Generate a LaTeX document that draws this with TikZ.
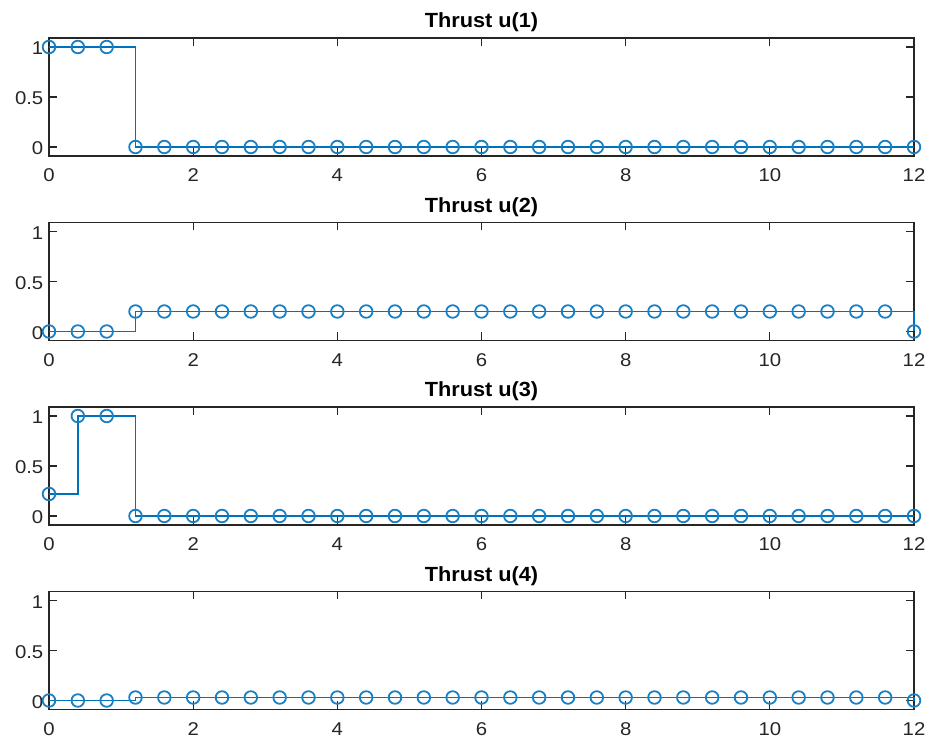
\documentclass[tikz,border=0pt]{standalone}
\usepackage{fontspec}
\setmainfont{Liberation Sans}
\newfontfamily\tickfont[FakeStretch=1.1]{Liberation Sans}
\newfontfamily\titlefont[FakeStretch=1.06]{Liberation Sans}
\definecolor{mblue}{HTML}{0072BD}
\definecolor{axgray}{HTML}{262626}
\tikzset{
  axisline/.style={draw=axgray, line width=1.2pt},
  dataline/.style={draw=mblue, line width=1.7pt, line join=miter},
  mk/.style={draw=mblue!90!white, line width=1.8pt},
  xlab/.style={anchor=base, inner sep=0pt, text=axgray, font=\tickfont\fontsize{18.5}{20}\selectfont},
  ylab/.style={anchor=base east, inner sep=0pt, text=axgray, font=\tickfont\fontsize{18.5}{20}\selectfont},
  ttl/.style={anchor=base, inner sep=0pt, text=black, font=\titlefont\fontsize{20.5}{22}\selectfont\bfseries}
}
\newcommand\axesframe[1]{%
  \draw[axisline] (0,-0.09) rectangle (12,1.09);
  \foreach \xx in {0,2,...,12} {
    \draw[axisline] (\xx,-0.09) -- ++(0,8pt);
    \draw[axisline] (\xx,1.09) -- ++(0,-8pt);
    \node[xlab] (xl\xx) at (\xx,-0.09) [yshift=-26pt] {\xx};
  }
  \foreach \yy/\lab in {0/0,0.5/0.5,1/1} {
    \draw[axisline] (0,\yy) -- ++(8pt,0);
    \draw[axisline] (12,\yy) -- ++(-8pt,0);
    \node[ylab] at (0,\yy) [xshift=-5.5pt,yshift=-8pt] {\lab};
  }
  \node[ttl] (ttl) at (6,1.09) [yshift=10pt] {#1};
}
\begin{document}
\begin{tikzpicture}[x=1pt,y=1pt]
\useasboundingbox (0,0) rectangle (932,742);
\fill[white] (0,0) rectangle (932,742);

% Panel 1
\begin{scope}[xshift=49pt,yshift=595pt,x=72.083pt,y=100pt]
  \axesframe{Thrust u(1)}
  \draw[dataline] (0,1) -- (1.2,1) -- (1.2,0) -- (12,0);
  \foreach \i in {0,1,2} \draw[mk] ({\i*0.4},1) circle[radius=6.3pt];
  \foreach \i in {3,...,30} \draw[mk] ({\i*0.4},0) circle[radius=6.3pt];
\end{scope}

% Panel 2
\begin{scope}[xshift=49pt,yshift=410.5pt,x=72.083pt,y=100pt]
  \axesframe{Thrust u(2)}
  \draw[dataline] (0,0) -- (1.2,0) -- (1.2,0.2) -- (12,0.2) -- (12,0);
  \foreach \i in {0,1,2} \draw[mk] ({\i*0.4},0) circle[radius=6.3pt];
  \foreach \i in {3,...,29} \draw[mk] ({\i*0.4},0.2) circle[radius=6.3pt];
  \draw[mk] (12,0) circle[radius=6.3pt];
\end{scope}

% Panel 3
\begin{scope}[xshift=49pt,yshift=226pt,x=72.083pt,y=100pt]
  \axesframe{Thrust u(3)}
  \draw[dataline] (0,0.22) -- (0.4,0.22) -- (0.4,1) -- (1.2,1) -- (1.2,0) -- (12,0);
  \draw[mk] (0,0.22) circle[radius=6.3pt];
  \foreach \i in {1,2} \draw[mk] ({\i*0.4},1) circle[radius=6.3pt];
  \foreach \i in {3,...,30} \draw[mk] ({\i*0.4},0) circle[radius=6.3pt];
\end{scope}

% Panel 4
\begin{scope}[xshift=49pt,yshift=41.5pt,x=72.083pt,y=100pt]
  \axesframe{Thrust u(4)}
  \draw[dataline] (0,0) -- (1.2,0) -- (1.2,0.03) -- (12,0.03) -- (12,0);
  \foreach \i in {0,1,2} \draw[mk] ({\i*0.4},0) circle[radius=6.3pt];
  \foreach \i in {3,...,29} \draw[mk] ({\i*0.4},0.03) circle[radius=6.3pt];
  \draw[mk] (12,0) circle[radius=6.3pt];
\end{scope}
\end{tikzpicture}
\end{document}
